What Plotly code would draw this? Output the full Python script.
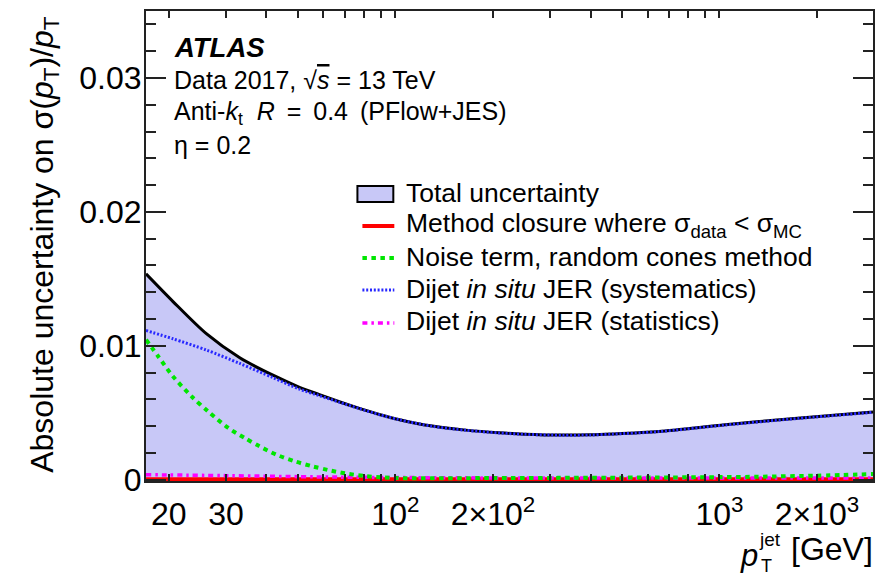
import math
import plotly.graph_objects as go

# ---------------- data ----------------
pt_total = [17, 20.6, 26.1, 33.1, 41.9, 50.6, 58.3, 67.1, 77.4, 89.2, 103, 130, 165,
            209, 250, 327, 400, 466, 650, 1040, 1667, 2977]
total_unc = [0.01537, 0.01330, 0.01090, 0.00910, 0.00780, 0.00690, 0.00635, 0.00582,
             0.00532, 0.00487, 0.00448, 0.00400, 0.00370, 0.00350, 0.00340, 0.00333,
             0.00335, 0.00341, 0.00360, 0.00410, 0.00455, 0.00505]
dijet_syst = [0.01114, 0.01052, 0.00968, 0.00868, 0.00762, 0.00676, 0.00627, 0.00579,
              0.00531, 0.00486, 0.00447, 0.00399, 0.00369, 0.00349, 0.00339, 0.00332,
              0.00334, 0.00340, 0.00359, 0.00408, 0.00453, 0.00503]

pt_noise = [17, 18.55, 20.6, 23.5, 26.4, 30.5, 34.3, 38.1, 42.9, 48.9, 55.6, 62, 70,
            80, 92, 105, 200, 500, 1000, 1318, 2000, 2977]
noise_term = [0.01045, 0.00920, 0.00771, 0.00622, 0.00510, 0.00386, 0.00311, 0.00249,
              0.00187, 0.00137, 0.00099, 0.00072, 0.00047, 0.00028, 0.00016, 0.00011,
              0.00012, 0.00015, 0.00019, 0.00022, 0.00030, 0.00042]

pt_stat = [17, 30, 60, 100, 200, 1000, 2977]
dijet_stat = [0.00037, 0.00030, 0.00020, 0.00016, 0.00013, 0.00012, 0.00012]

pt_closure = [17, 2977]
method_closure = [0.0, 0.0]

x_tickvals = [20, 30, 100, 200, 1000, 2000]
x_ticktext = ["20", "30", "10<sup>2</sup>", "2\u00d710<sup>2</sup>", "10<sup>3</sup>", "2\u00d710<sup>3</sup>"]
x_major_long = [100, 1000]
x_minor = [40, 50, 60, 70, 80, 90, 300, 400, 500, 600, 700, 800, 900]
y_tickvals = [0, 0.01, 0.02, 0.03]
y_ticktext = ["0", "0.01", "0.02", "0.03"]

legend_labels = [
    "Total uncertainty",
    "Method closure where \u03c3<sub>data</sub> &lt; \u03c3<sub>MC</sub>",
    "Noise term, random cones method",
    "Dijet <i>in situ</i> JER (systematics)",
    "Dijet <i>in situ</i> JER (statistics)",
]

# ---------------- styling ----------------
FONT = "Liberation Sans, Arial, Helvetica, sans-serif"
FILL = "rgb(200,200,247)"
GREEN = "rgb(0,230,0)"
BLUE = "rgb(40,40,255)"
MAGENTA = "rgb(255,0,255)"
RED = "rgb(255,0,0)"
AXC = "#222222"

W, H = 879, 578
L, R, T, B = 146, 4, 11, 97
PW, PH = W - L - R, H - T - B


def px(x):
    return (x - L) / PW


def py(y):
    return (T + PH - y) / PH


fig = go.Figure()
fig.add_trace(go.Scatter(x=pt_total, y=total_unc, mode="lines", fill="tozeroy",
                         fillcolor=FILL, line=dict(color="black", width=3, shape="spline", smoothing=0.8),
                         showlegend=False, hoverinfo="skip"))
fig.add_trace(go.Scatter(x=pt_closure, y=method_closure, mode="lines",
                         line=dict(color=RED, width=5), showlegend=False, hoverinfo="skip"))
fig.add_trace(go.Scatter(x=pt_stat, y=dijet_stat, mode="lines",
                         line=dict(color=MAGENTA, width=3.5, dash="5px,4px,2.5px,4px", shape="spline"),
                         showlegend=False, hoverinfo="skip"))
fig.add_trace(go.Scatter(x=pt_noise, y=noise_term, mode="lines",
                         line=dict(color=GREEN, width=4, dash="4.5px,4.5px", shape="spline", smoothing=0.8),
                         showlegend=False, hoverinfo="skip"))
fig.add_trace(go.Scatter(x=pt_total, y=dijet_syst, mode="lines",
                         line=dict(color=BLUE, width=3, dash="2px,1.8px", shape="spline", smoothing=0.8),
                         showlegend=False, hoverinfo="skip"))

xr = [math.log10(17), math.log10(2977)]
fig.update_layout(
    width=W, height=H, margin=dict(l=L, r=R, t=T, b=B, pad=0),
    paper_bgcolor="white", plot_bgcolor="white",
    font=dict(family=FONT, color="black"),
    xaxis=dict(type="log", range=xr, showgrid=False, zeroline=False,
               showline=True, linecolor=AXC, linewidth=2, mirror="ticks",
               ticks="inside", ticklen=7, tickwidth=1.5, tickcolor=AXC,
               tickmode="array", tickvals=x_tickvals, ticktext=x_ticktext,
               tickfont=dict(size=32, family=FONT, color="black"),
               ticklabelstandoff=4,
               minor=dict(tickmode="array", tickvals=x_minor, ticks="inside",
                          ticklen=7, tickwidth=1.5, tickcolor=AXC)),
    xaxis2=dict(type="log", range=xr, overlaying="x", anchor="y", side="bottom",
                showgrid=False, zeroline=False, showline=False, mirror="ticks",
                ticks="inside", ticklen=14, tickwidth=1.5, tickcolor=AXC,
                tickmode="array", tickvals=x_major_long, showticklabels=False),
    yaxis=dict(range=[-0.0001, 0.035], showgrid=False, zeroline=False,
               showline=True, linecolor=AXC, linewidth=2, mirror="ticks",
               ticks="inside", ticklen=20, tickwidth=1.5, tickcolor=AXC,
               tickmode="array", tickvals=y_tickvals, ticktext=y_ticktext,
               tickfont=dict(size=32, family=FONT, color="black"),
               ticklabelstandoff=-4,
               minor=dict(dtick=0.002, tick0=0, ticks="inside", ticklen=10,
                          tickwidth=1.5, tickcolor=AXC)),
)

ann = []
# top-left label
info = [
    ("<b><i>ATLAS</i></b>", 47, 27.5),
    ("Data 2017, \u221a<span style='text-decoration:overline'><i>s</i></span> = 13 TeV", 80, 25),
    ("Anti-<i>k</i><sub>t</sub>\u00a0 <i>R</i>\u2009 =\u2009 0.4\u2009 (PFlow+JES)", 113, 25),
    ("\u03b7 = 0.2", 145, 25),
]
for txt, yy, fs in info:
    ann.append(dict(text=txt, x=px(172), y=py(yy), xref="paper", yref="paper",
                    xanchor="left", yanchor="middle", showarrow=False,
                    font=dict(size=fs, family=FONT, color="black")))

# legend (manual)
leg_y = [193, 225, 257, 289, 321]
for lab, yy in zip(legend_labels, leg_y):
    ann.append(dict(text=lab, x=px(405), y=py(yy), xref="paper", yref="paper",
                    xanchor="left", yanchor="middle", showarrow=False,
                    font=dict(size=26.5, family=FONT, color="black")))

shapes = [
    dict(type="rect", xref="paper", yref="paper", x0=px(358), x1=px(394),
         y0=py(202), y1=py(186), fillcolor=FILL, line=dict(color="black", width=2)),
    dict(type="line", xref="paper", yref="paper", x0=px(363), x1=px(395),
         y0=py(226), y1=py(226), line=dict(color=RED, width=4)),
    dict(type="line", xref="paper", yref="paper", x0=px(363), x1=px(395),
         y0=py(258), y1=py(258), line=dict(color=GREEN, width=4, dash="4.5px,4.5px")),
    dict(type="line", xref="paper", yref="paper", x0=px(363), x1=px(395),
         y0=py(290), y1=py(290), line=dict(color=BLUE, width=3, dash="2px,1.8px")),
    dict(type="line", xref="paper", yref="paper", x0=px(363), x1=px(395),
         y0=py(323), y1=py(323), line=dict(color=MAGENTA, width=3.5, dash="5px,4px,2.5px,4px")),
]

# axis titles
ann.append(dict(text="Absolute uncertainty on \u03c3(<i>p</i><sub>T</sub>)/<i>p</i><sub>T</sub>",
                textangle=-90, x=px(44), y=py(14), xref="paper", yref="paper",
                xanchor="center", yanchor="top", showarrow=False,
                font=dict(size=32, family=FONT, color="black")))
ann.append(dict(text="<i>p</i>", x=px(740), y=py(555), xref="paper", yref="paper",
                xanchor="left", yanchor="middle", showarrow=False,
                font=dict(size=31, family=FONT, color="black")))
ann.append(dict(text="jet", x=px(759), y=py(539), xref="paper", yref="paper",
                xanchor="left", yanchor="middle", showarrow=False,
                font=dict(size=19, family=FONT, color="black")))
ann.append(dict(text="T", x=px(761), y=py(566), xref="paper", yref="paper",
                xanchor="left", yanchor="middle", showarrow=False,
                font=dict(size=18, family=FONT, color="black")))
ann.append(dict(text="[GeV]", x=px(877), y=py(549), xref="paper", yref="paper",
                xanchor="right", yanchor="middle", showarrow=False,
                font=dict(size=32, family=FONT, color="black")))

fig.update_layout(annotations=ann, shapes=shapes)
fig.write_html("out.html")
